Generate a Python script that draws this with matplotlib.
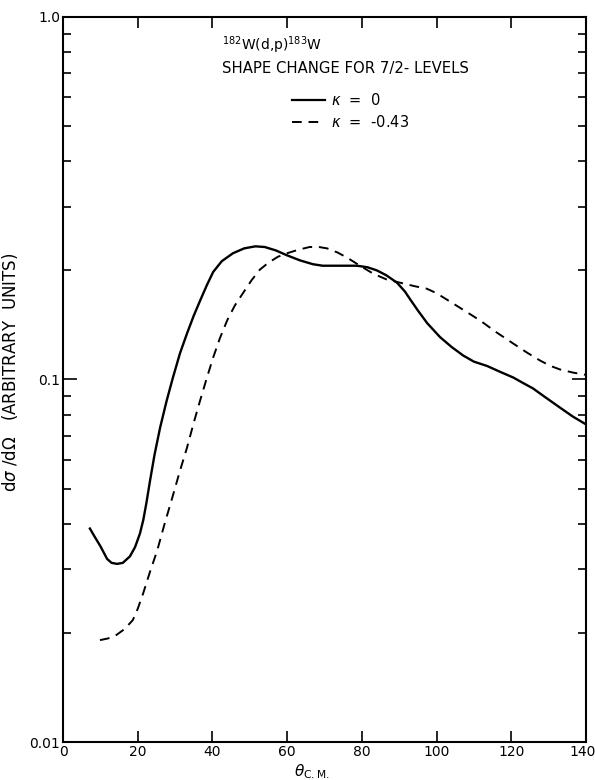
import matplotlib
matplotlib.use("Agg")
import matplotlib.pyplot as plt
import matplotlib.transforms as mtransforms
from matplotlib.ticker import LogLocator, NullFormatter, FixedLocator

# Data
theta_solid = [7.2, 8.5, 10.0, 11.8, 13.0, 14.5, 16.0, 17.9, 19.3, 20.6, 21.5, 22.3,
               23.3, 24.5, 26.0, 27.7, 29.4, 31.3, 33.2, 35.0, 36.7, 38.5, 40.2, 42.5,
               45.5, 48.5, 51.5, 54.0, 57.0, 60.0, 63.5, 66.9, 69.5, 72.3, 75.5, 78.7,
               81.5, 84.0, 86.5, 89.4, 91.5, 93.0, 95.0, 97.5, 100.9, 104.0, 107.1,
               110.0, 113.5, 117.0, 120.5, 123.0, 125.8, 129.0, 133.0, 136.5, 140.0]
sigma_solid = [0.0388, 0.0368, 0.0347, 0.0320, 0.0312, 0.0310, 0.0312, 0.0325, 0.0345,
               0.0376, 0.0410, 0.0455, 0.0526, 0.0620, 0.0737, 0.0870, 0.101, 0.118,
               0.134, 0.150, 0.165, 0.182, 0.198, 0.212, 0.223, 0.230, 0.233, 0.232,
               0.227, 0.220, 0.213, 0.208, 0.206, 0.206, 0.206, 0.206, 0.204, 0.200,
               0.194, 0.185, 0.175, 0.166, 0.155, 0.143, 0.131, 0.123, 0.1165, 0.112,
               0.109, 0.105, 0.1013, 0.098, 0.0945, 0.0895, 0.0837, 0.079, 0.0752]

theta_dashed = [9.9, 12.0, 13.9, 16.5, 18.7, 20.0, 21.4, 23.3, 25.2, 27.2, 29.2, 31.2,
                33.2, 35.0, 36.7, 38.5, 40.2, 42.0, 44.0, 46.0, 48.0, 50.5, 52.7, 55.0,
                57.5, 60.0, 63.0, 66.0, 68.5, 70.7, 73.5, 76.0, 79.5, 83.0, 86.5, 90.2,
                94.0, 97.4, 100.0, 102.8, 107.0, 111.6, 116.0, 120.5, 124.0, 127.7,
                130.5, 133.0, 136.5, 140.0]
sigma_dashed = [0.0191, 0.0193, 0.0196, 0.0205, 0.0217, 0.0233, 0.0256, 0.0295, 0.0337,
                0.0400, 0.0470, 0.0555, 0.0649, 0.0760, 0.0875, 0.101, 0.115, 0.130,
                0.146, 0.160, 0.172, 0.188, 0.201, 0.210, 0.218, 0.223, 0.228, 0.232,
                0.232, 0.230, 0.224, 0.217, 0.206, 0.196, 0.189, 0.185, 0.181, 0.178,
                0.173, 0.166, 0.156, 0.1456, 0.135, 0.1257, 0.119, 0.1128, 0.109,
                0.1066, 0.1045, 0.103]

x_ticks = [0, 20, 40, 60, 80, 100, 120, 140]
x_tick_labels = ["0", "20", "40", "60", "80", "100", "120", "140"]
y_ticks = [0.01, 0.1, 1.0]
y_tick_labels = ["0.01", "0.1", "1.0"]

W, H = 595, 780
fig = plt.figure(figsize=(W / 100, H / 100), dpi=100)
L, R, T, B = 63, 586, 17, 742
ax = fig.add_axes([L / W, 1 - B / H, (R - L) / W, (B - T) / H])

ax.plot(theta_solid, sigma_solid, color="black", lw=1.7, solid_joinstyle="round")
ax.plot(theta_dashed, sigma_dashed, color="black", lw=1.4, dashes=(5, 3.5))

ax.set_yscale("log")
ax.set_xlim(0, 140)
ax.set_ylim(0.01, 1.0)

ax.xaxis.set_major_locator(FixedLocator(x_ticks))
ax.set_xticklabels(x_tick_labels)
ax.yaxis.set_major_locator(FixedLocator(y_ticks))
ax.set_yticklabels(y_tick_labels)
ax.yaxis.set_minor_locator(LogLocator(base=10, subs=range(2, 10)))
ax.yaxis.set_minor_formatter(NullFormatter())

ax.tick_params(axis="both", which="both", direction="in", top=True, right=True,
               colors="black", labelsize=10)
ax.tick_params(axis="x", which="major", length=8, width=1.2, pad=2, labelsize=10)
ax.tick_params(axis="y", which="major", length=10, width=1.2, pad=2, labelsize=10)
ax.tick_params(axis="y", which="minor", length=6, width=1.2)
for sp in ax.spines.values():
    sp.set_linewidth(1.5)

# nudge the last x label so it stays inside the figure, as in the reference
last = ax.get_xticklabels()[-1]
last.set_transform(last.get_transform() +
                   mtransforms.ScaledTranslation(-3 / 100, 0, fig.dpi_scale_trans))

ax.set_xlabel(r"$\theta_{\rm C.M.}$", fontsize=11)
ax.xaxis.set_label_coords((312 - L) / (R - L), -(762 - B) / (B - T))
ax.set_ylabel(r"d$\sigma$ /d$\Omega$   (ARBITRARY  UNITS)", fontsize=12)
ax.yaxis.set_label_coords((20 - L) / (R - L), (B - 372) / (B - T))

def fx(px):
    return px / W

def fy(py):
    return 1 - py / H

fig.text(fx(222), fy(50), r"$^{182}$W(d,p)$^{183}$W", fontsize=10, va="baseline", ha="left")
fig.text(fx(222), fy(73), "SHAPE CHANGE FOR 7/2- LEVELS", fontsize=10.7, va="baseline", ha="left")

fig.add_artist(plt.Line2D([fx(292), fx(325)], [fy(100), fy(100)], color="black", lw=1.6))
fig.add_artist(plt.Line2D([fx(292), fx(325)], [fy(122), fy(122)], color="black", lw=1.4,
                          dashes=(5, 3.5)))
fig.text(fx(331), fy(100), r"$\kappa$  =  0", fontsize=10.5, va="center", ha="left")
fig.text(fx(331), fy(122), r"$\kappa$  =  -0.43", fontsize=10.5, va="center", ha="left")

fig.savefig("out.png", dpi=100, facecolor="white")
